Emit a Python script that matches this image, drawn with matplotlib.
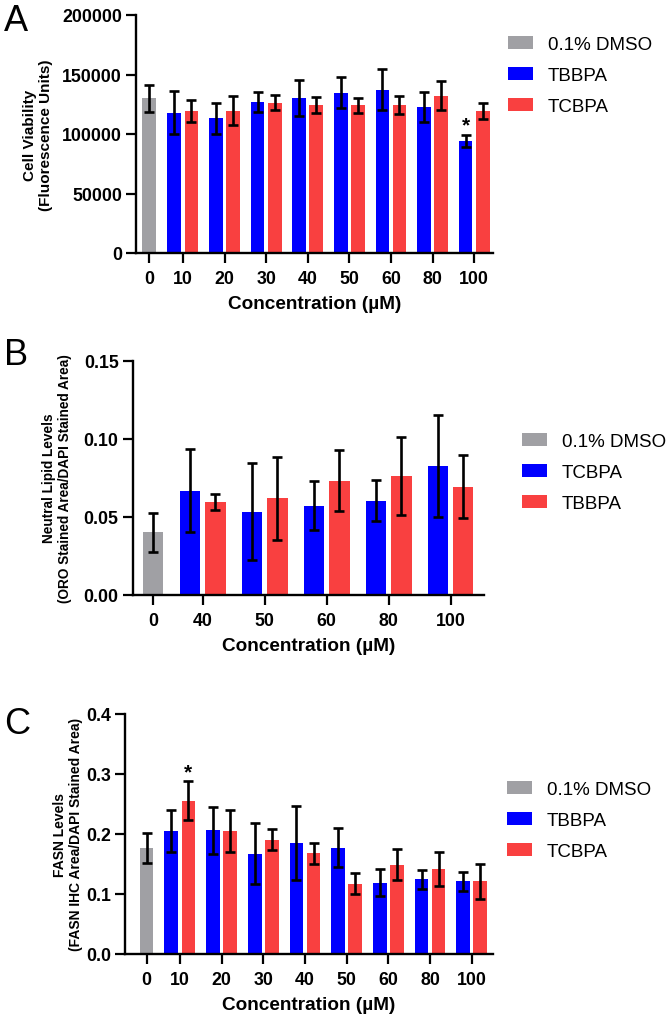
import matplotlib.pyplot as plt
import numpy as np

plt.rcParams['font.family'] = ['Liberation Sans', 'DejaVu Sans']
plt.rcParams['font.weight'] = 'bold'
plt.rcParams['axes.labelweight'] = 'bold'

gray = '#a0a0a4'
blue = '#0000ff'
red = '#f94040'

# panel A - cell viability
a_conc = ['0', '10', '20', '30', '40', '50', '60', '80', '100']
a_dmso, a_dmso_err = 130000, 11500
a_tbbpa = [117900, 113200, 126900, 130500, 134500, 137300, 122700, 94100]
a_tbbpa_err = [18000, 13000, 8500, 15000, 13000, 17500, 13000, 5300]
a_tcbpa = [119300, 119600, 126300, 124400, 124100, 124400, 132200, 119300]
a_tcbpa_err = [9500, 12000, 6500, 7000, 6500, 7500, 12000, 6500]

# panel B - neutral lipid (blue = TCBPA, red = TBBPA here)
b_conc = ['0', '40', '50', '60', '80', '100']
b_dmso, b_dmso_err = 0.040, 0.0125
b_tcbpa = [0.0667, 0.0532, 0.0571, 0.0603, 0.0825]
b_tcbpa_err = [0.0265, 0.031, 0.0158, 0.013, 0.0325]
b_tbbpa = [0.0596, 0.0618, 0.0731, 0.0761, 0.0692]
b_tbbpa_err = [0.005, 0.0267, 0.0195, 0.025, 0.0203]

# panel C - FASN
c_conc = ['0', '10', '20', '30', '40', '50', '60', '80', '100']
c_dmso, c_dmso_err = 0.1764, 0.025
c_tbbpa = [0.2053, 0.2059, 0.167, 0.1848, 0.177, 0.1187, 0.1243, 0.121]
c_tbbpa_err = [0.035, 0.039, 0.051, 0.062, 0.032, 0.022, 0.016, 0.0155]
c_tcbpa = [0.2552, 0.2053, 0.1903, 0.1676, 0.117, 0.1487, 0.142, 0.121]
c_tcbpa_err = [0.032, 0.035, 0.018, 0.017, 0.017, 0.026, 0.028, 0.029]


def panel(ax, conc, dmso, dmso_err, s1, s1_err, s2, s2_err, first):
    centers = first + np.arange(len(s1))
    xb = centers - 0.205
    xr = centers + 0.205
    w = 0.33
    h0 = ax.bar(0, dmso, w, color=gray)
    h1 = ax.bar(xb, s1, w, color=blue)
    h2 = ax.bar(xr, s2, w, color=red)
    ekw = dict(fmt='none', ecolor='black', elinewidth=1.9, capsize=3.3, capthick=1.9, zorder=3)
    ax.errorbar([0], [dmso], yerr=[dmso_err], **ekw)
    ax.errorbar(xb, s1, yerr=s1_err, **ekw)
    ax.errorbar(xr, s2, yerr=s2_err, **ekw)
    ax.set_xticks(np.r_[0, centers])
    ax.set_xticklabels(conc)
    ax.spines['top'].set_visible(False)
    ax.spines['right'].set_visible(False)
    ax.spines['left'].set_linewidth(1.7)
    ax.spines['bottom'].set_linewidth(1.7)
    ax.tick_params(direction='out', length=7.2, width=1.6, labelsize=12.8)
    ax.tick_params(axis='x', pad=5)
    ax.tick_params(axis='y', pad=3)
    ax.set_xlabel('Concentration (µM)', fontsize=13.7, fontweight='bold', labelpad=6)
    return [h0, h1, h2], xb, xr


fig = plt.figure(figsize=(6.69, 10.2), dpi=100)
W, H = 669, 1020


def add_axes(left, right, top, bottom):
    return fig.add_axes([left / W, 1 - bottom / H, (right - left) / W, (bottom - top) / H])


leg_kw = dict(loc='upper left', frameon=False, borderpad=0, borderaxespad=0,
              handlelength=1.33, handleheight=0.7, handletextpad=0.8, labelspacing=0.74,
              prop={'size': 13.5, 'weight': 'normal'}, bbox_transform=fig.transFigure)

# A
axA = add_axes(136, 493, 16, 254)
hA, xbA, xrA = panel(axA, a_conc, a_dmso, a_dmso_err, a_tbbpa, a_tbbpa_err, a_tcbpa, a_tcbpa_err, 0.817)
axA.set_xlim(-0.31, 8.27)
axA.set_ylim(0, 200000)
axA.set_yticks([0, 50000, 100000, 150000, 200000])
axA.set_ylabel('Cell Viability\n(Fluorescence Units)', fontsize=11, fontweight='bold')
axA.yaxis.set_label_coords(-0.232, 0.5)
axA.text(xbA[7], a_tbbpa[7] + a_tbbpa_err[7], '*', ha='center', va='bottom', fontsize=15)
fig.legend(hA, ['0.1% DMSO', 'TBBPA', 'TCBPA'], bbox_to_anchor=(508 / W, 1 - 37 / H), **leg_kw)

# B
axB = add_axes(132.7, 484, 361.7, 595.7)
hB, xbB, xrB = panel(axB, b_conc, b_dmso, b_dmso_err, b_tcbpa, b_tcbpa_err, b_tbbpa, b_tbbpa_err, 0.8)
axB.set_xlim(-0.33, 5.34)
axB.set_ylim(0, 0.15)
axB.set_yticks([0, 0.05, 0.10, 0.15])
axB.set_yticklabels(['0.00', '0.05', '0.10', '0.15'])
axB.set_ylabel('Neutral Lipid Levels\n(ORO Stained Area/DAPI Stained Area)', fontsize=9.8, fontweight='bold')
axB.yaxis.set_label_coords(-0.173, 0.5)
fig.legend(hB, ['0.1% DMSO', 'TCBPA', 'TBBPA'], bbox_to_anchor=(522 / W, 1 - 434 / H), **leg_kw)

# C
axC = add_axes(125.3, 493, 714.7, 955)
hC, xbC, xrC = panel(axC, c_conc, c_dmso, c_dmso_err, c_tbbpa, c_tbbpa_err, c_tcbpa, c_tcbpa_err, 0.8)
axC.set_xlim(-0.51, 8.31)
axC.set_ylim(0, 0.4)
axC.set_yticks([0, 0.1, 0.2, 0.3, 0.4])
axC.set_yticklabels(['0.0', '0.1', '0.2', '0.3', '0.4'])
axC.set_ylabel('FASN Levels\n(FASN IHC Area/DAPI Stained Area)', fontsize=10, fontweight='bold')
axC.yaxis.set_label_coords(-0.115, 0.5)
axC.text(xrC[0], c_tcbpa[0] + c_tcbpa_err[0], '*', ha='center', va='bottom', fontsize=15)
fig.legend(hC, ['0.1% DMSO', 'TBBPA', 'TCBPA'], bbox_to_anchor=(507 / W, 1 - 782 / H), **leg_kw)

for letter, y in [('A', 4), ('B', 338), ('C', 707)]:
    fig.text(4 / W, 1 - y / H, letter, fontsize=26, fontweight='normal', va='top', ha='left')

fig.savefig('out.png', dpi=100)
